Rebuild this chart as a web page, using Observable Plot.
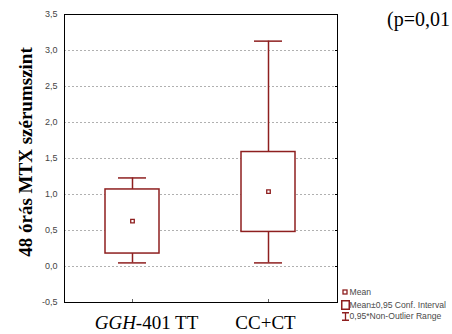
<!DOCTYPE html>
<html>
<head>
<meta charset="utf-8">
<script src="https://cdn.jsdelivr.net/npm/d3@7"></script>
<script src="https://cdn.jsdelivr.net/npm/@observablehq/plot@0.6"></script>
<style>
  body { margin: 0; background: #fff; }
  #wrap { position: relative; width: 452px; height: 334px; overflow: hidden; }
  .leg { position: absolute; left: 349.5px; font-family: Arial, "Liberation Sans", sans-serif; font-size: 8.6px; color: #4a4a4a; white-space: nowrap; line-height: 10px; height: 10px; }
  .sym { position: absolute; }
  .ptxt { position: absolute; left: 387px; top: 8px; font-family: "Liberation Serif", serif; font-size: 20px; line-height: 23px; white-space: nowrap; color: #000; }
  .ylab { position: absolute; left: 25px; top: 152px; transform: translate(-50%, -50%) rotate(-90deg); font-family: "Liberation Serif", serif; font-weight: bold; font-size: 19px; white-space: nowrap; color: #000; line-height: 1; }
</style>
</head>
<body>
<div id="wrap"></div>
<script>
const categories = ["GGH-401 TT", "CC+CT"];
const means = [0.63, 1.04];
const ciLow = [0.18, 0.48];
const ciHigh = [1.07, 1.59];
const rangeLow = [0.05, 0.05];
const rangeHigh = [1.23, 3.13];
const yTicks = [-0.5, 0, 0.5, 1, 1.5, 2, 2.5, 3, 3.5];
const gridTicks = [0, 0.5, 1, 1.5, 2, 2.5, 3];
const yLabel = "48 órás MTX szérumszint";
const pText = "(p=0,01";
const legendLabels = ["Mean", "Mean±0,95 Conf. Interval", "0,95*Non-Outlier Range"];

const color = "#8e1f1f";
const data = categories.map((c, i) => ({
  cat: c, mean: means[i], lo: ciLow[i], hi: ciHigh[i], rlo: rangeLow[i], rhi: rangeHigh[i]
}));
const fmt = d => d.toFixed(1).replace(".", ",");
const none = () => "";

const plot = Plot.plot({
  width: 452,
  height: 334,
  marginLeft: 64,
  marginRight: 115,
  marginTop: 14,
  marginBottom: 32,
  style: { background: "#fff", overflow: "visible" },
  x: { type: "band", domain: categories, paddingInner: 0.6, paddingOuter: 0.3 },
  y: { domain: [-0.5, 3.5] },
  marks: [
    Plot.ruleY(gridTicks, { stroke: "#b0b0b0", strokeDasharray: "2,2", strokeWidth: 1 }),
    Plot.axisY({ ticks: yTicks, tickSize: 0, tickPadding: 7, tickFormat: fmt, fontSize: 9, fill: "#444", fontFamily: "Arial, Liberation Sans, sans-serif", label: null }),
    Plot.axisY({ anchor: "right", ticks: yTicks, tickSize: -3, tickFormat: none, label: null, stroke: "#000" }),
    Plot.axisX({ tickSize: 0, tickPadding: 13, fontSize: 19, fill: "#000", fontFamily: "Liberation Serif, serif", label: null }),
    Plot.axisX({ anchor: "bottom", tickSize: -3, tickFormat: none, label: null, stroke: "#666" }),
    Plot.ruleX(data, { x: "cat", y1: "rlo", y2: "lo", stroke: color, strokeWidth: 1.5 }),
    Plot.ruleX(data, { x: "cat", y1: "hi", y2: "rhi", stroke: color, strokeWidth: 1.5 }),
    Plot.tickY(data, { x: "cat", y: "rlo", insetLeft: 13, insetRight: 13, stroke: color, strokeWidth: 1.5 }),
    Plot.tickY(data, { x: "cat", y: "rhi", insetLeft: 13, insetRight: 13, stroke: color, strokeWidth: 1.5 }),
    Plot.barY(data, { x: "cat", y1: "lo", y2: "hi", fill: "#fff", stroke: color, strokeWidth: 1.5 }),
    Plot.dot(data, { x: "cat", y: "mean", symbol: "square", r: 2, stroke: color, fill: "#fff", strokeWidth: 1.3 }),
    Plot.frame({ stroke: "#000", strokeWidth: 1 })
  ]
});

// italicize "GGH" in the first category label and nudge labels as in the reference
const ns = "http://www.w3.org/2000/svg";
plot.querySelectorAll("text").forEach(t => {
  if (t.textContent === "GGH-401 TT") {
    t.textContent = "";
    const a = document.createElementNS(ns, "tspan");
    a.setAttribute("font-style", "italic");
    a.textContent = "GGH";
    const b = document.createElementNS(ns, "tspan");
    b.textContent = "-401 TT";
    t.appendChild(a); t.appendChild(b);
    t.setAttribute("dx", "14");
  } else if (t.textContent === "CC+CT") {
    t.setAttribute("dx", "-3");
  }
});

const wrap = document.getElementById("wrap");
wrap.appendChild(plot);

const yl = document.createElement("div");
yl.className = "ylab";
yl.textContent = yLabel;
wrap.appendChild(yl);

const p = document.createElement("div");
p.className = "ptxt";
p.textContent = pText;
wrap.appendChild(p);

// legend
const legCenters = [292, 304.5, 316];
const symbols = [
  { html: `<svg width="6" height="6"><rect x="1" y="1" width="4" height="4" fill="#fff" stroke="${color}" stroke-width="1.3"/></svg>`, left: 341.5, w: 6 },
  { html: `<svg width="9" height="10"><rect x="0.75" y="0.75" width="7.5" height="8.5" fill="#fff" stroke="${color}" stroke-width="1.5"/></svg>`, left: 340.5, w: 10 },
  { html: `<svg width="9" height="9"><path d="M1,0.75H8M4.5,0.75V8.25M1,8.25H8" fill="none" stroke="${color}" stroke-width="1.3"/></svg>`, left: 340.5, w: 9 }
];
legendLabels.forEach((l, i) => {
  const s = document.createElement("div");
  s.className = "sym";
  s.style.left = symbols[i].left + "px";
  s.style.top = (legCenters[i] - symbols[i].w / 2) + "px";
  s.style.lineHeight = "0";
  s.innerHTML = symbols[i].html;
  wrap.appendChild(s);
  const d = document.createElement("div");
  d.className = "leg";
  d.style.top = (legCenters[i] - 5) + "px";
  d.textContent = l;
  wrap.appendChild(d);
});
</script>
</body>
</html>
